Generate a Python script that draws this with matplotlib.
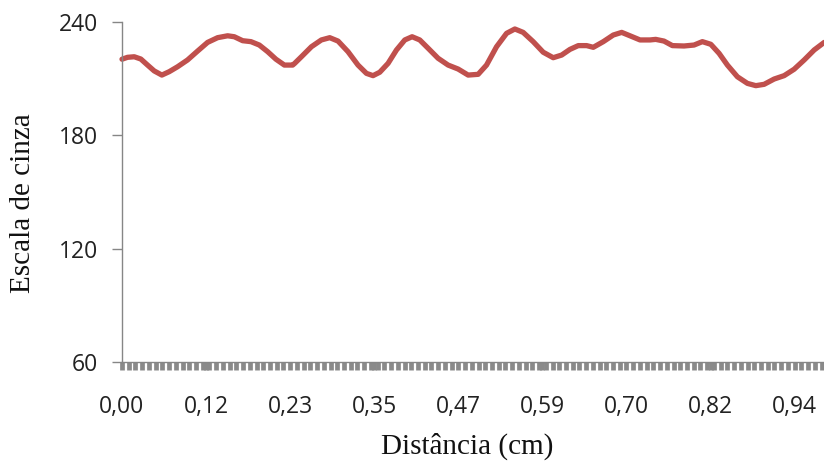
import matplotlib
matplotlib.use("Agg")
import matplotlib.pyplot as plt
from matplotlib.ticker import FixedLocator
import numpy as np

# Distance (cm) and grey level values
distance = [0.0000, 0.0077, 0.0171, 0.0263, 0.0357, 0.0450, 0.0557, 0.0660, 0.0776,
            0.0916, 0.1056, 0.1196, 0.1336, 0.1476, 0.1569, 0.1686, 0.1802, 0.1919,
            0.2035, 0.2151, 0.2269, 0.2385, 0.2413, 0.2507, 0.2647, 0.2786, 0.2903,
            0.3019, 0.3158, 0.3298, 0.3416, 0.3508, 0.3602, 0.3718, 0.3836, 0.3952,
            0.4054, 0.4161, 0.4278, 0.4417, 0.4557, 0.4697, 0.4837, 0.4977, 0.5094,
            0.5234, 0.5374, 0.5490, 0.5606, 0.5746, 0.5886, 0.6026, 0.6144, 0.6260,
            0.6376, 0.6493, 0.6586, 0.6726, 0.6865, 0.6983, 0.7099, 0.7239, 0.7379,
            0.7458, 0.7574, 0.7691, 0.7854, 0.7994, 0.8110, 0.8228, 0.8344, 0.8460,
            0.8600, 0.8740, 0.8857, 0.8973, 0.9113, 0.9253, 0.9393, 0.9533, 0.9673,
            0.9813]
grey = [220.3, 221.3, 221.6, 220.4, 217.2, 214.1, 211.9, 213.7, 216.3,
        219.9, 224.6, 229.2, 231.7, 232.7, 232.2, 230.1, 229.6, 227.8,
        224.3, 220.3, 217.2, 217.2, 218.1, 221.6, 226.9, 230.5, 231.7,
        229.9, 224.3, 217.2, 212.8, 211.6, 213.4, 218.1, 225.2, 230.5,
        232.2, 230.5, 226.1, 220.8, 217.2, 215.1, 211.9, 212.3, 217.2,
        226.9, 234.0, 236.3, 234.5, 229.6, 224.0, 221.1, 222.5, 225.5,
        227.5, 227.5, 226.6, 229.6, 233.1, 234.5, 232.7, 230.5, 230.5,
        230.8, 229.9, 227.5, 227.3, 227.8, 229.6, 228.2, 223.4, 217.2,
        211.0, 207.5, 206.3, 207.0, 209.8, 211.6, 215.0, 219.9, 225.2,
        229.2]

x_tick_pos = [0.0, 0.1175, 0.235, 0.3525, 0.47, 0.5875, 0.705, 0.8225, 0.94]
x_tick_labels = ["0,00", "0,12", "0,23", "0,35", "0,47", "0,59", "0,70", "0,82", "0,94"]
y_ticks = [60, 120, 180, 240]

fig = plt.figure(figsize=(8.24, 4.62), dpi=100)
ax = fig.add_axes([122 / 824, 1 - 362 / 462, 1 - 122 / 824, 340 / 462])

ax.plot(distance, grey, color="#C0504D", lw=3.8, solid_joinstyle="round",
        solid_capstyle="round", clip_on=False)

ax.set_xlim(0, 0.981)
ax.set_ylim(60, 240)

axis_col = "#868686"
for s in ["top", "right"]:
    ax.spines[s].set_visible(False)
for s in ["left", "bottom"]:
    ax.spines[s].set_color(axis_col)
    ax.spines[s].set_linewidth(1.0)

ax.set_yticks(y_ticks)
ax.set_yticklabels([str(v) for v in y_ticks], fontfamily="Open Sans", fontsize=16.5, color="#222222")
ax.tick_params(axis="y", direction="out", length=7, width=1, color=axis_col, pad=10)

ax.set_xticks(x_tick_pos)
ax.set_xticklabels(x_tick_labels, fontfamily="Open Sans", fontsize=16.5, color="#222222")
ax.tick_params(axis="x", which="major", direction="out", length=6, width=3.4,
               color="#8a8a8a", pad=18)
minor_pos = np.arange(0, 0.981, 0.1175 / 12.5)
ax.xaxis.set_minor_locator(FixedLocator(minor_pos))
ax.tick_params(axis="x", which="minor", direction="out", length=6, width=3.4,
               color="#8a8a8a")

fig.text(23 / 824, 1 - 203 / 462, "Escala de cinza", rotation=90, ha="center", va="center",
         fontfamily="Liberation Serif", fontsize=21, color="#111111")
fig.text(467 / 824, 1 - 454 / 462, "Distância (cm)", ha="center", va="baseline",
         fontfamily="Liberation Serif", fontsize=21, color="#111111")

fig.savefig("out.png", dpi=100)
